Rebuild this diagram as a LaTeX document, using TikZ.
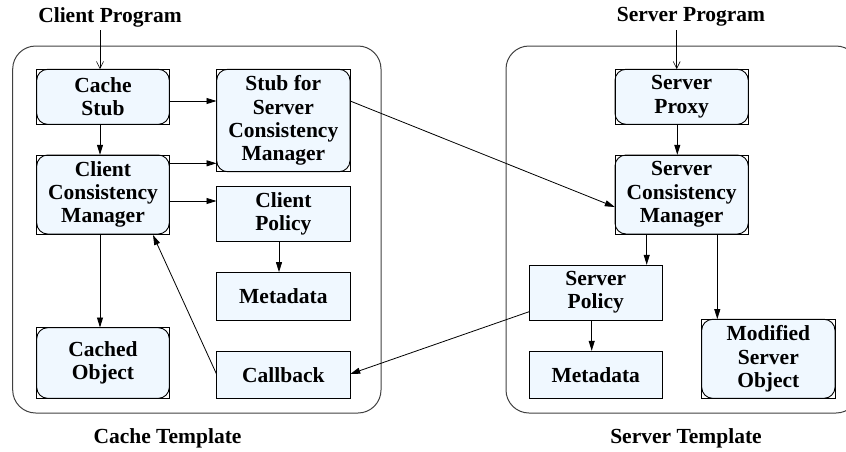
\documentclass[tikz,border=0pt]{standalone}
\usepackage{fontspec}
\setmainfont{Liberation Serif}
\usetikzlibrary{arrows.meta}
\definecolor{boxfill}{HTML}{F0F8FF}
\tikzset{
  lbl/.style={font=\fontsize{21.5}{23.3}\selectfont\bfseries, align=center, inner sep=0pt},
  sqbox/.style={draw=black, line width=0.9pt, fill=boxfill, rectangle},
  rbox/.style={draw=black, line width=0.9pt, fill=boxfill, rounded corners=11pt},
  rframe/.style={draw=black, line width=0.6pt},
  outerframe/.style={draw=black!75, line width=1pt, rounded corners=23pt},
  arr/.style={-{Triangle[length=10pt,width=6pt]}, line width=0.8pt},
  openarr/.style={-{Straight Barb[length=7pt,width=7pt,line width=0.6pt]}, line width=0.6pt}
}
\newcommand{\roundbox}[6]{% name, x1,y1,x2,y2, text
  \path[rbox] (#2,#3) rectangle (#4,#5);
  \draw[rframe] (#2,#3) rectangle (#4,#5);
  \node[lbl, minimum width=#4-#2, minimum height=#5-#3] (#1) at ({(#2+#4)/2},{(#3+#5)/2}) {#6};
}
\newcommand{\squarebox}[6]{%
  \path[sqbox] (#2,#3) rectangle (#4,#5);
  \node[lbl, minimum width=#4-#2, minimum height=#5-#3] (#1) at ({(#2+#4)/2},{(#3+#5)/2}) {#6};
}
\begin{document}
\begin{tikzpicture}[x=1pt,y=-1pt]
\useasboundingbox (0,0) rectangle (846,451);
% outer frames
\draw[outerframe] (12.7,46) rectangle (381,413);
\draw[outerframe] (506,46) rectangle (859,413);
% titles
\node[lbl] (cp) at (110,17) {Client Program};
\node[lbl] (sp) at (691,17) {Server Program};
\node[lbl] (ct) at (167.5,438) {Cache Template};
\node[lbl] (st) at (686,438) {Server Template};
% left boxes
\roundbox{cs}{36.7}{69.3}{169.3}{124.3}{Cache\\Stub}
\roundbox{ccm}{36.7}{155}{169.3}{234}{Client\\Consistency\\Manager}
\roundbox{sscm}{216.7}{69.3}{350}{171.7}{Stub for\\Server\\Consistency\\Manager}
\squarebox{cpol}{216.7}{186.7}{350}{241.7}{Client\\Policy}
\squarebox{md1}{216.7}{272.3}{350}{320}{Metadata}
\roundbox{co}{36.7}{327.7}{169.3}{398.3}{Cached\\Object}
\squarebox{cb}{216.7}{351}{350}{398.3}{Callback}
% right boxes
\roundbox{spx}{615}{69.3}{748.3}{124.3}{Server\\Proxy}
\roundbox{scm}{615}{155}{748.3}{234}{Server\\Consistency\\Manager}
\squarebox{spol}{529.3}{265}{662.3}{320}{Server\\Policy}
\squarebox{md2}{529.3}{351}{662.3}{398.3}{Metadata}
\roundbox{mso}{701.7}{319.3}{835}{398.3}{Modified\\Server\\Object}
% coordinates
\coordinate (cpa) at (100,30);
\coordinate (spa) at (676.7,30);
% arrows
\draw[openarr] (cpa) -- (cs.north -| cpa);
\draw[openarr] (spa) -- (spx.north -| spa);
\draw[arr] (cs.south -| 100,0) -- (ccm.north -| 100,0);
\draw[arr] (cs.east |- 0,101) -- (sscm.west |- 0,101);
\draw[arr] (ccm.east |- 0,163.3) -- (sscm.west |- 0,163.3);
\draw[arr] (ccm.east |- 0,201) -- (cpol.west |- 0,201);
\draw[arr] (ccm.south -| 100,0) -- (co.north -| 100,0);
\draw[arr] (cpol.south -| 279,0) -- (md1.north -| 279,0);
\draw[arr] (cb.west |- 0,374) -- (153,235);
\draw[arr] (sscm.east |- 0,101) -- (scm.west |- 0,207);
\draw[arr] (spol.west |- 0,311.7) -- (cb.east |- 0,374);
\draw[arr] (spx.south -| 677.3,0) -- (scm.north -| 677.3,0);
\draw[arr] (scm.south -| 646.7,0) -- (spol.north -| 646.7,0);
\draw[arr] (scm.south -| 717.3,0) -- (mso.north -| 717.3,0);
\draw[arr] (spol.south -| 591.7,0) -- (md2.north -| 591.7,0);
\end{tikzpicture}
\end{document}
